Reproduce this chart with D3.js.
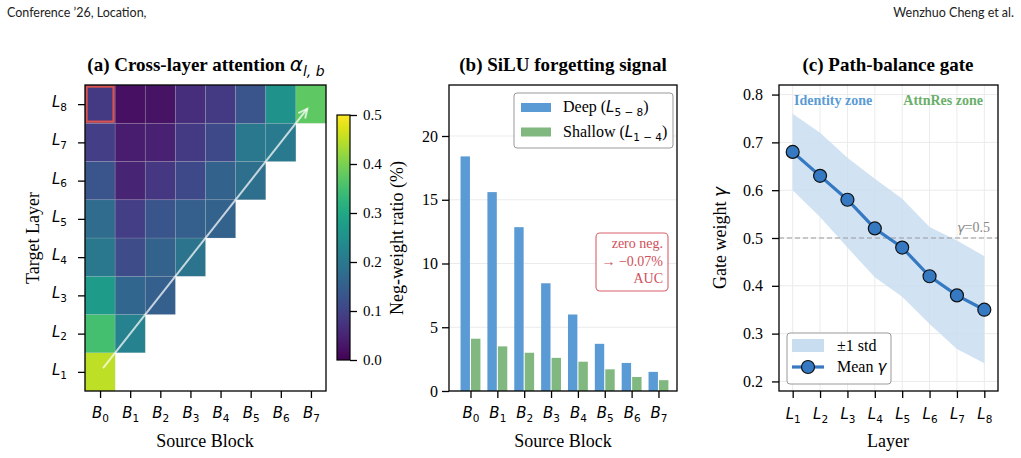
<!DOCTYPE html>
<html>
<head>
<meta charset="utf-8">
<script src="https://cdn.jsdelivr.net/npm/d3@7"></script>
<style>
  body { margin: 0; background: #fff; }
  svg { display: block; }
</style>
</head>
<body>
<svg id="chart" width="1021" height="458"></svg>
<script>
// ---------- data ----------
var blocks = ["0", "1", "2", "3", "4", "5", "6", "7"];
var layers = ["1", "2", "3", "4", "5", "6", "7", "8"];

// alpha[l][b]: one row per target layer (L1 first), only b < l
var alpha = [
  [0.45],
  [0.35, 0.22],
  [0.275, 0.165, 0.15],
  [0.20, 0.115, 0.155, 0.19],
  [0.175, 0.09, 0.13, 0.15, 0.155],
  [0.13, 0.05, 0.08, 0.11, 0.155, 0.18],
  [0.09, 0.04, 0.045, 0.085, 0.11, 0.20, 0.205],
  [0.085, 0.02, 0.025, 0.065, 0.085, 0.13, 0.255, 0.375]
];
var cbTicks = [0.0, 0.1, 0.2, 0.3, 0.4, 0.5];

var deepRatio = [18.4, 15.6, 12.85, 8.45, 6.0, 3.7, 2.2, 1.5];
var shallowRatio = [4.1, 3.5, 3.0, 2.6, 2.3, 1.7, 1.1, 0.85];
var ratioTicks = [0, 5, 10, 15, 20];

var gammaMean = [0.68, 0.63, 0.58, 0.52, 0.48, 0.42, 0.38, 0.35];
var gammaUpper = [0.76, 0.72, 0.668, 0.624, 0.582, 0.523, 0.495, 0.462];
var gammaLower = [0.60, 0.544, 0.48, 0.418, 0.377, 0.32, 0.268, 0.238];
var gammaTicks = [0.2, 0.3, 0.4, 0.5, 0.6, 0.7, 0.8];

// ---------- helpers ----------
var SERIF = "'Liberation Serif','Times New Roman',serif";
var MATH = "'DejaVu Sans',sans-serif";
var svg = d3.select("#chart");

// italic letter + upright subscript, mathtext style
function mathText(text, letter, sub, size) {
  text.append("tspan").attr("font-family", MATH).attr("font-style", "italic")
    .attr("font-size", size).text(letter);
  text.append("tspan").attr("font-family", MATH)
    .attr("font-size", size * 0.7).attr("dy", size * 0.25).text(sub);
}

function styleAxis(g) {
  g.select(".domain").remove();
  g.selectAll(".tick line").attr("stroke", "#000").attr("stroke-width", 1.3);
}

function frame(x0, y0, x1, y1) {
  svg.append("rect").attr("x", x0).attr("y", y0)
    .attr("width", x1 - x0).attr("height", y1 - y0)
    .attr("fill", "none").attr("stroke", "#000").attr("stroke-width", 1.3);
}

function title(x, txt) {
  return svg.append("text").attr("x", x).attr("y", 71)
    .attr("text-anchor", "middle").attr("font-family", SERIF)
    .attr("font-weight", "bold").attr("font-size", 19).text(txt);
}

function xLabel(x, txt) {
  svg.append("text").attr("x", x).attr("y", 447).attr("text-anchor", "middle")
    .attr("font-family", SERIF).attr("font-size", 18).text(txt);
}

function yLabel(x, y, txt) {
  return svg.append("text").attr("transform", "translate(" + x + "," + y + ") rotate(-90)")
    .attr("text-anchor", "middle").attr("font-family", SERIF).attr("font-size", 18).text(txt);
}

// ---------- header ----------
svg.append("text").attr("x", 7).attr("y", 17).attr("font-family", "Lato, sans-serif")
  .attr("font-size", 12.5).attr("fill", "#222").text("Conference \u201926, Location,");
svg.append("text").attr("x", 1014).attr("y", 17).attr("text-anchor", "end")
  .attr("font-family", "Lato, sans-serif").attr("font-size", 12.5).attr("fill", "#222")
  .text("Wenzhuo Cheng et al.");

// ================= (a) heatmap =================
var xA = d3.scaleLinear().domain([-0.5, 7.5]).range([85, 326]);
var yA = d3.scaleLinear().domain([-0.5, 7.5]).range([391, 85]);
var color = d3.scaleSequential(d3.interpolateViridis).domain([0, 0.5]);

var cells = [];
alpha.forEach(function(row, l) {
  row.forEach(function(v, b) { cells.push({l: l, b: b, v: v}); });
});

var gA = svg.append("g");
gA.selectAll("rect.cell").data(cells).enter().append("rect")
  .attr("class", "cell")
  .attr("x", function(d) { return xA(d.b - 0.5); })
  .attr("y", function(d) { return yA(d.l + 0.5); })
  .attr("width", xA(0.5) - xA(-0.5))
  .attr("height", yA(-0.5) - yA(0.5))
  .attr("fill", function(d) { return color(d.v); })
  .attr("stroke", "rgba(200,200,200,0.3)")
  .attr("stroke-width", 0.6);

// highlight L8 <- B0
svg.append("rect")
  .attr("x", xA(-0.5) + 1.6).attr("y", yA(7.5) + 1.6)
  .attr("width", xA(0.5) - xA(-0.5) - 3.2).attr("height", yA(6.5) - yA(7.5) - 3.2)
  .attr("fill", "none").attr("stroke", "#d9534f").attr("stroke-width", 2.2);

// diagonal arrow
var ax0 = xA(0.1), ay0 = yA(0.1), ax1 = xA(6.88), ay1 = yA(6.88);
var ang = Math.atan2(ay1 - ay0, ax1 - ax0);
svg.append("line").attr("x1", ax0).attr("y1", ay0).attr("x2", ax1).attr("y2", ay1)
  .attr("stroke", "rgba(255,255,255,0.72)").attr("stroke-width", 2);
var hl = 10, ha = 0.45;
svg.append("path")
  .attr("d", "M" + (ax1 - hl * Math.cos(ang - ha)) + "," + (ay1 - hl * Math.sin(ang - ha)) +
    "L" + ax1 + "," + ay1 +
    "L" + (ax1 - hl * Math.cos(ang + ha)) + "," + (ay1 - hl * Math.sin(ang + ha)))
  .attr("fill", "none").attr("stroke", "rgba(255,255,255,0.72)").attr("stroke-width", 2);

frame(85, 85, 326, 391);

var axA = svg.append("g").attr("transform", "translate(0,391)")
  .call(d3.axisBottom(xA).tickValues(d3.range(8)).tickSize(7).tickFormat(""));
styleAxis(axA);
axA.selectAll(".tick").append("text").attr("y", 27).attr("text-anchor", "middle")
  .attr("fill", "#000").each(function(d) { mathText(d3.select(this), "B", blocks[d], 15); });

var ayA = svg.append("g").attr("transform", "translate(85,0)")
  .call(d3.axisLeft(yA).tickValues(d3.range(8)).tickSize(7).tickFormat(""));
styleAxis(ayA);
ayA.selectAll(".tick").append("text").attr("x", -18).attr("dy", "0.25em").attr("text-anchor", "end")
  .attr("fill", "#000").each(function(d) { mathText(d3.select(this), "L", layers[d], 15); });

var tA = title(206, "(a) Cross-layer attention ");
tA.append("tspan").attr("font-family", MATH).attr("font-style", "italic")
  .attr("font-weight", "normal").attr("font-size", 20).text("\u03b1");
tA.append("tspan").attr("font-family", MATH).attr("font-style", "italic")
  .attr("font-weight", "normal").attr("font-size", 14).attr("dy", 5).text("l, b");

xLabel(205, "Source Block");
yLabel(39, 238, "Target Layer");

// colorbar
var yCb = d3.scaleLinear().domain([0, 0.5]).range([360, 115]);
var grad = svg.append("defs").append("linearGradient").attr("id", "vir")
  .attr("x1", 0).attr("y1", 1).attr("x2", 0).attr("y2", 0);
d3.range(0, 1.0001, 0.05).forEach(function(t) {
  grad.append("stop").attr("offset", t).attr("stop-color", d3.interpolateViridis(t));
});
svg.append("rect").attr("x", 337).attr("y", 115).attr("width", 13).attr("height", 245)
  .attr("fill", "url(#vir)").attr("stroke", "#000").attr("stroke-width", 1.2);
var cb = svg.append("g").attr("transform", "translate(350,0)")
  .call(d3.axisRight(yCb).tickValues(cbTicks).tickSize(7).tickPadding(6).tickFormat(d3.format(".1f")));
styleAxis(cb);
cb.selectAll(".tick text").attr("font-family", SERIF).attr("font-size", 15).attr("fill", "#000");

// ================= (b) bars =================
var xB = d3.scaleLinear().domain([-0.8, 7.69]).range([449, 677]);
var yB = d3.scaleLinear().domain([0, 24]).range([391, 85]);
var bw = 0.35;

svg.append("g").selectAll("line").data(ratioTicks).enter().append("line")
  .attr("x1", 449).attr("x2", 677)
  .attr("y1", function(d) { return yB(d); }).attr("y2", function(d) { return yB(d); })
  .attr("stroke", "#ebebeb").attr("stroke-width", 1);

svg.append("g").selectAll("rect").data(deepRatio).enter().append("rect")
  .attr("x", function(d, i) { return xB(i - 0.02 - bw); })
  .attr("y", function(d) { return yB(d); })
  .attr("width", xB(bw) - xB(0))
  .attr("height", function(d) { return yB(0) - yB(d); })
  .attr("fill", "#5b9bd5");

svg.append("g").selectAll("rect").data(shallowRatio).enter().append("rect")
  .attr("x", function(d, i) { return xB(i + 0.02); })
  .attr("y", function(d) { return yB(d); })
  .attr("width", xB(bw) - xB(0))
  .attr("height", function(d) { return yB(0) - yB(d); })
  .attr("fill", "#80b880");

frame(449, 85, 677, 391);

var axB = svg.append("g").attr("transform", "translate(0,391)")
  .call(d3.axisBottom(xB).tickValues(d3.range(8)).tickSize(7).tickFormat(""));
styleAxis(axB);
axB.selectAll(".tick").append("text").attr("y", 27).attr("text-anchor", "middle")
  .attr("fill", "#000").each(function(d) { mathText(d3.select(this), "B", blocks[d], 15); });

var ayB = svg.append("g").attr("transform", "translate(449,0)")
  .call(d3.axisLeft(yB).tickValues(ratioTicks).tickSize(7).tickPadding(4));
styleAxis(ayB);
ayB.selectAll(".tick text").attr("font-family", SERIF).attr("font-size", 16).attr("fill", "#000");

title(563, "(b) SiLU forgetting signal");
xLabel(563, "Source Block");
yLabel(403, 238, "Neg-weight ratio (%)");

// legend (b)
svg.append("rect").attr("x", 514).attr("y", 93).attr("width", 159).attr("height", 55)
  .attr("rx", 3).attr("fill", "#fff").attr("fill-opacity", 0.85)
  .attr("stroke", "#999").attr("stroke-width", 1);
var legB = [{name: "Deep (", sub: "5 \u2212 8", c: "#5b9bd5"}, {name: "Shallow (", sub: "1 \u2212 4", c: "#80b880"}];
legB.forEach(function(e, i) {
  var y = 112 + i * 24.5;
  svg.append("rect").attr("x", 521).attr("y", y - 9).attr("width", 30).attr("height", 9).attr("fill", e.c);
  var t = svg.append("text").attr("x", 563).attr("y", y).attr("font-family", SERIF).attr("font-size", 16);
  t.append("tspan").text(e.name);
  t.append("tspan").attr("font-family", MATH).attr("font-style", "italic").attr("font-size", 15).text("L");
  t.append("tspan").attr("font-family", MATH).attr("font-size", 10.5).attr("dy", 4).text(e.sub);
  t.append("tspan").attr("dy", -4).text(")");
});

// annotation (b)
svg.append("rect").attr("x", 596).attr("y", 233).attr("width", 72).attr("height", 58)
  .attr("rx", 4).attr("fill", "#fff").attr("stroke", "#d9626a").attr("stroke-width", 1.1);
["zero neg.", "\u2192 \u22120.07%", "AUC"].forEach(function(s, i) {
  svg.append("text").attr("x", 663).attr("y", 248 + i * 17.5).attr("text-anchor", "end")
    .attr("font-family", SERIF).attr("font-size", 14).attr("fill", "#d0505a").text(s);
});

// ================= (c) gate =================
var xC = d3.scaleLinear().domain([0.5, 8.5]).range([779, 998]);
var yC = d3.scaleLinear().domain([0.18, 0.82]).range([391, 85]);
var idx = d3.range(1, 9);

svg.append("g").selectAll("line").data(gammaTicks).enter().append("line")
  .attr("x1", 779).attr("x2", 998)
  .attr("y1", function(d) { return yC(d); }).attr("y2", function(d) { return yC(d); })
  .attr("stroke", "#ebebeb");
svg.append("g").selectAll("line").data(idx).enter().append("line")
  .attr("y1", 85).attr("y2", 391)
  .attr("x1", function(d) { return xC(d); }).attr("x2", function(d) { return xC(d); })
  .attr("stroke", "#ebebeb");

var band = d3.area()
  .x(function(d, i) { return xC(idx[i]); })
  .y0(function(d, i) { return yC(gammaLower[i]); })
  .y1(function(d, i) { return yC(gammaUpper[i]); });
svg.append("path").datum(gammaMean).attr("d", band).attr("fill", "#c9ddf1").attr("fill-opacity", 0.85);

svg.append("line").attr("x1", 779).attr("x2", 998).attr("y1", yC(0.5)).attr("y2", yC(0.5))
  .attr("stroke", "#999").attr("stroke-width", 1.2).attr("stroke-dasharray", "5,3");
var gt = svg.append("text").attr("x", 990).attr("y", yC(0.5) - 6).attr("text-anchor", "end")
  .attr("font-family", SERIF).attr("font-size", 14).attr("fill", "#888");
gt.append("tspan").attr("font-family", MATH).attr("font-style", "italic").attr("font-size", 13).text("\u03b3");
gt.append("tspan").text("=0.5");

var line = d3.line().x(function(d, i) { return xC(idx[i]); }).y(function(d) { return yC(d); });
svg.append("path").datum(gammaMean).attr("d", line).attr("fill", "none")
  .attr("stroke", "#3479c2").attr("stroke-width", 3.2);
svg.append("g").selectAll("circle").data(gammaMean).enter().append("circle")
  .attr("cx", function(d, i) { return xC(idx[i]); })
  .attr("cy", function(d) { return yC(d); })
  .attr("r", 6.5).attr("fill", "#3479c2").attr("stroke", "#111").attr("stroke-width", 1.2);

svg.append("text").attr("x", 794).attr("y", 105).attr("font-family", SERIF).attr("font-weight", "bold")
  .attr("font-size", 14).attr("fill", "#5b9bd5").text("Identity zone");
svg.append("text").attr("x", 983).attr("y", 105).attr("text-anchor", "end").attr("font-family", SERIF)
  .attr("font-weight", "bold").attr("font-size", 14).attr("fill", "#6aaf6a").text("AttnRes zone");

frame(779, 85, 998, 391);

var axC = svg.append("g").attr("transform", "translate(0,391)")
  .call(d3.axisBottom(xC).tickValues(idx).tickSize(7).tickFormat(""));
styleAxis(axC);
axC.selectAll(".tick").append("text").attr("y", 28).attr("text-anchor", "middle")
  .attr("fill", "#000").each(function(d) { mathText(d3.select(this), "L", layers[d - 1], 15); });

var ayC = svg.append("g").attr("transform", "translate(779,0)")
  .call(d3.axisLeft(yC).tickValues(gammaTicks).tickSize(7).tickPadding(9).tickFormat(d3.format(".1f")));
styleAxis(ayC);
ayC.selectAll(".tick text").attr("font-family", SERIF).attr("font-size", 16).attr("fill", "#000");

title(888, "(c) Path-balance gate");
xLabel(888, "Layer");
var yl = yLabel(726, 238, "Gate weight ");
yl.append("tspan").attr("font-family", MATH).attr("font-style", "italic").attr("font-size", 17).text("\u03b3");

// legend (c)
svg.append("rect").attr("x", 787).attr("y", 333).attr("width", 104).attr("height", 51)
  .attr("rx", 3).attr("fill", "#fff").attr("fill-opacity", 0.85)
  .attr("stroke", "#999").attr("stroke-width", 1);
svg.append("rect").attr("x", 792).attr("y", 339).attr("width", 32).attr("height", 13)
  .attr("fill", "#c9ddf1");
svg.append("text").attr("x", 837).attr("y", 351).attr("font-family", SERIF).attr("font-size", 16)
  .text("\u00b11 std");
svg.append("line").attr("x1", 792).attr("x2", 824).attr("y1", 367).attr("y2", 367)
  .attr("stroke", "#3479c2").attr("stroke-width", 3.2);
svg.append("circle").attr("cx", 808).attr("cy", 367).attr("r", 6.5)
  .attr("fill", "#3479c2").attr("stroke", "#111").attr("stroke-width", 1.2);
var lm = svg.append("text").attr("x", 837).attr("y", 372).attr("font-family", SERIF).attr("font-size", 16);
lm.append("tspan").text("Mean ");
lm.append("tspan").attr("font-family", MATH).attr("font-style", "italic").attr("font-size", 15).text("\u03b3");
</script>
</body>
</html>
